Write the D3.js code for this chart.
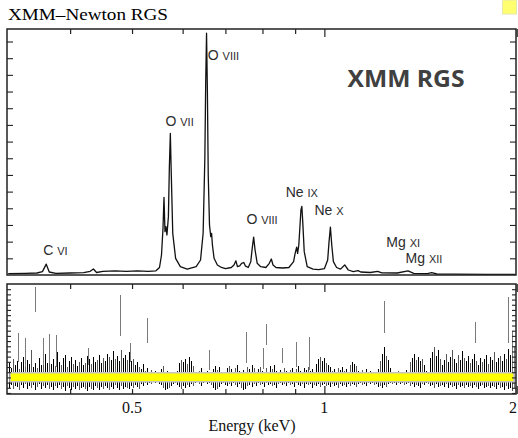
<!DOCTYPE html>
<html><head><meta charset="utf-8">
<script src="https://cdn.jsdelivr.net/npm/d3@7"></script>
<style>body{margin:0;background:#fff}svg{display:block}</style>
</head><body><svg id="c" width="518" height="438"></svg>
<script>
// ---- spectrum (energy keV, flux in arbitrary units) ----
const specE = [0.320,0.340,0.355,0.362,0.367,0.371,0.380,0.400,0.420,0.430,0.435,0.440,0.450,0.470,0.490,0.510,0.530,0.545,0.552,0.556,0.559,0.561,0.563,0.565,0.567,0.570,0.572,0.574,0.576,0.579,0.585,0.595,0.610,0.630,0.640,0.646,0.650,0.652,0.654,0.656,0.658,0.661,0.664,0.666,0.668,0.672,0.680,0.690,0.700,0.715,0.722,0.727,0.731,0.737,0.742,0.748,0.752,0.760,0.767,0.771,0.775,0.779,0.785,0.795,0.810,0.820,0.826,0.831,0.840,0.860,0.880,0.895,0.900,0.905,0.908,0.912,0.916,0.919,0.922,0.925,0.930,0.940,0.960,0.980,1.000,1.012,1.017,1.022,1.027,1.033,1.045,1.060,1.076,1.090,1.110,1.129,1.140,1.180,1.212,1.230,1.300,1.352,1.380,1.450,1.472,1.500,1.600,1.800,1.990];
const specF = [0.08,0.10,0.12,0.20,0.65,0.18,0.10,0.12,0.14,0.22,0.36,0.15,0.22,0.25,0.22,0.25,0.22,0.25,0.45,1.2,2.8,4.66,2.6,2.9,2.4,3.5,6.5,8.49,6.0,2.5,1.0,0.5,0.35,0.5,0.9,2.5,7.0,11.5,14.5,11.0,6.0,3.0,2.3,2.5,1.8,1.0,0.6,0.45,0.38,0.45,0.6,0.85,0.5,0.55,0.7,0.75,0.55,0.45,0.8,1.6,2.27,1.5,0.7,0.5,0.45,0.7,0.96,0.6,0.45,0.42,0.45,0.8,1.3,1.67,1.3,1.8,3.0,3.9,4.12,3.2,1.4,0.5,0.35,0.32,0.38,0.9,2.0,2.87,1.8,0.8,0.45,0.35,0.6,0.3,0.2,0.26,0.18,0.15,0.22,0.13,0.12,0.25,0.1,0.08,0.14,0.06,0.05,0.04,0.03];

// ---- line labels ----
const lineIon = ["O","O","C","O","Ne","Ne","Mg","Mg"];
const lineStage = ["VIII","VII","VI","VIII","IX","X","XI","XII"];
const lineLabelE = [0.657,0.564,0.363,0.755,0.870,0.965,1.25,1.34];
const lineLabelF = [12.9,8.95,1.2,3.05,4.68,3.6,1.68,0.72];

// ---- residuals (sigma) on detector channels ----
const resEmin = 0.3209, resEmax = 1.981;
const resHi = [1.4,0.9,1.8,1.2,1.6,0.8,1.5,2.0,1.1,1.7,
1.3,2.6,1.0,1.4,0.9,1.9,1.2,1.6,2.3,1.4,
2.1,1.3,1.8,1.1,2.4,1.5,1.2,1.9,2.2,1.0,
1.6,2.0,1.3,1.7,1.1,1.5,1.9,1.2,1.4,2.1,
1.8,1.3,2.0,1.5,1.7,2.2,1.4,1.9,1.6,2.3,
2.0,1.7,2.5,1.8,2.1,1.6,2.6,1.9,2.2,1.7,
2.4,1.6,1.8,1.2,1.5,1.0,0.8,1.3,0.6,0.9,
0.5,0.7,0.4,0.6,0.3,0.5,0.8,1.1,0.4,0.6,
0.3,0.5,0.4,0.3,0.6,1.4,1.7,1.5,1.8,1.3,
2.0,1.6,1.1,0.5,0.3,0.6,0.9,0.4,0.3,0.6,
0.5,0.4,0.8,1.1,0.7,1.0,0.4,0.3,0.5,0.9,
1.1,0.8,0.5,0.9,1.2,0.6,0.4,0.7,0.3,1.0,
0.8,1.2,0.9,0.5,0.8,1.0,0.6,0.4,0.9,0.5,
1.1,0.8,1.2,0.6,0.4,0.7,0.5,0.9,0.6,0.3,
0.7,0.9,0.5,0.8,1.1,0.6,0.4,0.9,0.7,1.0,
0.6,0.8,0.5,1.3,1.8,2.0,1.6,1.9,1.4,1.2,
1.0,0.6,0.8,0.5,0.9,0.7,1.0,0.6,0.8,0.4,
1.2,1.5,1.3,1.1,0.6,0.4,0.7,0.5,0.8,0.4,
0.6,0.3,0.5,0.4,0.8,1.6,2.3,2.9,2.1,1.7,
0.9,0.5,0.3,0.4,0.6,0.3,0.5,0.4,0.7,0.3,
1.5,1.9,2.3,1.7,2.0,1.6,1.8,1.2,0.6,0.4,
1.9,2.4,2.9,2.1,2.6,1.8,1.2,1.7,2.3,1.5,
2.0,2.6,1.8,1.4,2.2,1.7,2.5,1.9,1.6,2.1,
1.4,1.8,2.3,1.6,1.2,1.9,1.5,1.8,2.2,1.3,
2.0,1.7,2.4,1.5,1.9,2.1,1.6,2.3,1.8,2.7,
2.2,3.0,1.8];
const resLo = [-1.0,-0.7,-1.1,-0.8,-0.9,-1.2,-0.7,-1.0,-0.6,-1.1,
-0.8,-1.0,-0.7,-1.2,-0.9,-0.6,-1.1,-0.8,-1.0,-0.7,
-1.1,-0.9,-1.2,-0.8,-1.0,-0.7,-1.1,-0.9,-1.3,-0.8,
-1.0,-1.2,-0.9,-1.1,-0.8,-1.2,-1.0,-0.9,-1.1,-1.3,
-0.9,-1.1,-1.2,-0.8,-1.0,-1.2,-0.9,-1.1,-0.8,-1.0,
-1.2,-0.9,-1.1,-0.7,-1.0,-1.2,-0.8,-1.1,-0.9,-1.0,
-1.1,-0.8,-1.0,-0.7,-0.9,-1.1,-0.6,-0.8,-0.5,-0.7,
-0.5,-0.6,-0.4,-0.5,-0.4,-0.6,-0.7,-1.0,-1.2,-1.1,
-1.0,-0.8,-0.6,-0.5,-0.7,-0.9,-1.1,-0.8,-1.0,-0.7,
-0.9,-0.6,-0.8,-0.5,-0.4,-0.6,-0.8,-0.5,-0.4,-0.6,
-0.5,-0.7,-1.0,-1.2,-1.1,-0.9,-0.6,-0.5,-0.7,-0.8,
-0.6,-0.8,-0.5,-0.7,-0.9,-0.6,-1.0,-1.2,-1.1,-0.8,
-0.7,-0.9,-0.6,-0.8,-0.5,-0.7,-0.6,-0.9,-0.5,-0.7,
-0.6,-0.8,-0.7,-1.0,-0.6,-0.5,-0.7,-0.6,-0.8,-0.5,
-0.7,-0.6,-0.9,-0.5,-0.7,-0.8,-0.6,-1.0,-0.6,-0.7,
-0.6,-1.0,-0.7,-0.8,-0.6,-0.9,-0.7,-0.6,-0.8,-0.7,
-0.9,-0.6,-0.8,-0.7,-1.0,-0.6,-0.8,-0.7,-0.9,-0.6,
-0.8,-0.6,-0.7,-0.9,-0.6,-0.5,-0.7,-0.6,-0.8,-0.5,
-0.6,-0.5,-0.7,-0.6,-0.9,-0.8,-1.0,-0.7,-0.9,-0.6,
-0.5,-0.6,-0.5,-0.7,-0.5,-0.6,-0.5,-0.7,-0.6,-0.5,
-0.8,-0.6,-0.9,-0.7,-0.8,-1.0,-0.6,-0.7,-0.5,-0.6,
-0.8,-0.7,-1.0,-0.6,-0.9,-0.8,-0.7,-0.9,-0.6,-1.0,
-0.7,-0.9,-0.8,-1.1,-0.7,-0.9,-0.8,-1.0,-0.7,-0.9,
-0.8,-1.0,-0.7,-0.9,-1.1,-0.8,-0.7,-1.0,-0.9,-0.8,
-1.0,-0.8,-0.9,-1.1,-0.7,-1.0,-0.9,-1.2,-0.8,-1.1,
-1.0,-1.3,-0.9];
// isolated grey error bars (energy, low, high)
const grayE  = [0.3316,0.340,0.3525,0.363,0.3708,0.3803,0.427,0.4792,0.4968,0.5283,0.6609,0.7526,0.8003,0.809,0.8571,0.9016,0.9449,1.2392,1.7208,1.9384,1.967,1.980];
const grayLo = [1.5,1.0,6.3,1.2,1.4,1.0,1.2,4.0,1.5,3.3,0.7,1.4,0.8,3.1,1.4,1.0,0.7,4.3,3.3,3.3,0.5,-1.0];
const grayHi = [4.3,3.8,8.7,3.8,4.2,4.1,2.8,7.9,3.3,5.7,2.6,4.4,2.8,5.1,2.8,3.4,3.9,7.4,5.3,7.7,4.5,3.0];
const bandLo = -0.42, bandHi = 0.45;

const xTicks = [0.4,0.5,0.6,0.7,0.8,0.9,1,2];
const xLabels = [0.5,1,2];

// ---- layout ----
const svg = d3.select("#c");
const L = 7, R = 516;
const x = d3.scaleLog().domain([0.3186,1.995]).range([L,R]);
const yTop = d3.scaleLinear().domain([0,14.75]).range([275,29]);
const yRes = d3.scaleLinear().domain([-1.6,9.0]).range([394,284]);

// title
svg.append("text").attr("x",8).attr("y",20)
  .attr("font-family","Liberation Serif, Times New Roman, serif").attr("font-size",16)
  .attr("textLength",160).attr("lengthAdjust","spacingAndGlyphs")
  .text("XMM\u2013Newton RGS");
// small yellow box top right
svg.append("rect").attr("x",502.5).attr("y",0).attr("width",14).attr("height",14)
  .attr("fill","#ffff70").attr("stroke","#e6e6b0").attr("stroke-width",1);

// ---- top panel ----
const gT = svg.append("g");
gT.append("clipPath").attr("id","ct").append("rect")
  .attr("x",L).attr("y",29).attr("width",R-L).attr("height",246);
gT.append("path").datum(specE.map((e,i)=>[e,specF[i]]))
  .attr("clip-path","url(#ct)")
  .attr("d",d3.line().x(d=>x(d[0])).y(d=>yTop(d[1])))
  .attr("fill","none").attr("stroke","#111").attr("stroke-width",1.3).attr("stroke-linejoin","round");

function frame(g,y0,y1){
  g.append("rect").attr("x",L).attr("y",y0).attr("width",R-L).attr("height",y1-y0)
   .attr("fill","none").attr("stroke","#222").attr("stroke-width",1.5);
}
function xAxes(g,y0,y1,bottom){
  const top = g.append("g").attr("transform",`translate(0,${y0})`)
    .call(d3.axisBottom(x).tickValues(xTicks).tickSize(5).tickFormat(""));
  top.select(".domain").remove();
  top.selectAll(".tick line").attr("y2",d=>(d===1||d===2)?8:5).attr("stroke","#222").attr("stroke-width",1.2);
  if(bottom){
    const b = g.append("g").attr("transform",`translate(0,${y1})`)
      .call(d3.axisTop(x).tickValues(xTicks).tickSize(5).tickFormat(""));
    b.select(".domain").remove();
    b.selectAll(".tick line").attr("y2",d=>(d===1||d===2)?-8:-5).attr("stroke","#222").attr("stroke-width",1.2);
  }
}
function yAxes(g,scale,vals,len){
  const l = g.append("g").attr("transform",`translate(${L},0)`)
    .call(d3.axisRight(scale).tickValues(vals).tickSize(len).tickFormat(""));
  l.select(".domain").remove();
  l.selectAll(".tick line").attr("stroke","#222").attr("stroke-width",1.1);
  const r = g.append("g").attr("transform",`translate(${R},0)`)
    .call(d3.axisLeft(scale).tickValues(vals).tickSize(len).tickFormat(""));
  r.select(".domain").remove();
  r.selectAll(".tick line").attr("stroke","#222").attr("stroke-width",1.1);
}
xAxes(gT,29,275,false);
yAxes(gT,yTop,d3.range(1,15),6);
frame(gT,29,275);

// labels
const lab = gT.append("g").attr("font-family","Liberation Sans, Arial, sans-serif").attr("fill","#2b2b2b");
lineIon.forEach((ion,i)=>{
  const t = lab.append("text").attr("x",x(lineLabelE[i])).attr("y",yTop(lineLabelF[i]))
    .attr("font-size",14);
  t.append("tspan").text(ion+" ");
  t.append("tspan").attr("font-size",11).text(lineStage[i]);
});
gT.append("text").attr("x",406).attr("y",87).attr("text-anchor","middle")
  .attr("font-family","Open Sans, Lato, sans-serif").attr("font-weight","bold")
  .attr("font-size",23).attr("fill","#404040")
  .attr("textLength",117).attr("lengthAdjust","spacingAndGlyphs").text("XMM RGS");

// ---- bottom panel ----
const gB = svg.append("g");
gB.append("clipPath").attr("id","cb").append("rect")
  .attr("x",L).attr("y",284).attr("width",R-L).attr("height",110);
const N = resHi.length;
const resE = d3.range(N).map(i=>resEmin*Math.pow(resEmax/resEmin,i/(N-1)));
const bars = gB.append("g").attr("clip-path","url(#cb)").attr("shape-rendering","crispEdges");
bars.selectAll("line.r").data(resE).join("line").attr("class","r")
  .attr("x1",d=>Math.round(x(d))+0.5).attr("x2",d=>Math.round(x(d))+0.5)
  .attr("y1",(d,i)=>yRes(resLo[i])).attr("y2",(d,i)=>yRes(resHi[i]))
  .attr("stroke",(d,i)=>i%3===2?"#555":"#000").attr("stroke-width",1);
bars.selectAll("line.g").data(grayE).join("line").attr("class","g")
  .attr("x1",d=>Math.round(x(d))+0.5).attr("x2",d=>Math.round(x(d))+0.5)
  .attr("y1",(d,i)=>yRes(grayLo[i])).attr("y2",(d,i)=>yRes(grayHi[i]))
  .attr("stroke","#7a7a7a").attr("stroke-width",1);
gB.append("rect").attr("x",10).attr("width",504)
  .attr("y",yRes(bandHi)).attr("height",yRes(bandLo)-yRes(bandHi))
  .attr("fill","#ffff00").attr("stroke","#c4c4c4").attr("stroke-width",1.5);
xAxes(gB,284,394,true);
yAxes(gB,yRes,d3.range(-1.5,9,0.5),4);
frame(gB,284,394);

// tick labels and axis title
const tl = svg.append("g").attr("font-family","Liberation Serif, Times New Roman, serif").attr("font-size",16).attr("fill","#111");
tl.selectAll("text").data(xLabels).join("text")
  .attr("x",d=>d===2?517:x(d)).attr("y",413)
  .attr("text-anchor",d=>d===2?"end":"middle").text(d=>d);
svg.append("text").attr("x",252).attr("y",431).attr("text-anchor","middle")
  .attr("font-family","Liberation Serif, Times New Roman, serif").attr("font-size",16)
  .attr("fill","#111").text("Energy (keV)");
</script></body></html>
